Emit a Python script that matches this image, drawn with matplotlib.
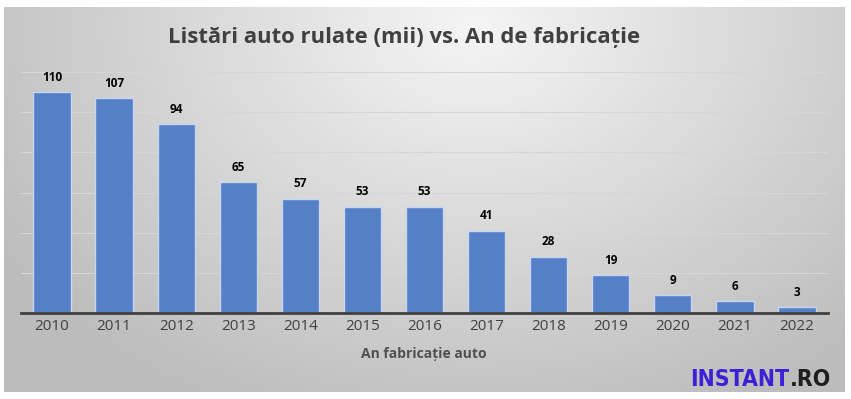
import numpy as np
import matplotlib
matplotlib.use('Agg')
import matplotlib.pyplot as plt
from matplotlib import font_manager

# date
ani = ['2010', '2011', '2012', '2013', '2014', '2015', '2016',
       '2017', '2018', '2019', '2020', '2021', '2022']
listari = [110, 107, 94, 65, 57, 53, 53, 41, 28, 19, 9, 6, 3]

titlu = 'Listări auto rulate (mii) vs. An de fabricație'
eticheta_x = 'An fabricație auto'

plt.rcParams['font.family'] = ['Open Sans', 'DejaVu Sans']

# un fisier de font ingust (bold) pentru logo, daca exista
logo_file = None
for f in font_manager.fontManager.ttflist:
    n = f.fname.lower()
    if ('condensed' in n or 'narrow' in n) and 'bold' in n and 'oblique' not in n and 'italic' not in n:
        logo_file = f.fname
        break

fig = plt.figure(figsize=(8.51, 3.99), dpi=100)
fig.patch.set_facecolor('white')

# fundal cu gradient
bg = fig.add_axes([4/851, 7/399, 841/851, 385/399])
h, w = 385, 841
yy, xx = np.mgrid[0:h, 0:w]
d = np.sqrt(((xx - 470) / 560.0) ** 2 + ((yy - 20) / 420.0) ** 2)
d = np.clip(d, 0, 1)
val = 0.96 - 0.22 * d
img = np.dstack([val, val, val])
bg.imshow(img, aspect='auto', extent=[0, 1, 0, 1], origin='upper')
bg.set_axis_off()

ax = fig.add_axes([21/851, (399-313)/399, 807/851, (313-72)/399])
ax.patch.set_alpha(0)
x = np.arange(len(ani))
bare = ax.bar(x, listari, width=0.6, color='#5580c8', edgecolor='#c5d6ee',
              linewidth=1.0, zorder=3)
ax.set_xlim(-0.5, len(ani) - 0.5)
ax.set_ylim(0, 120)
ax.set_yticks(range(0, 121, 20))
ax.yaxis.grid(True, color='#d6d6d6', linewidth=0.8, zorder=0)
ax.tick_params(axis='y', left=False, labelleft=False)
ax.tick_params(axis='x', length=0, pad=4, labelsize=11, labelcolor='#404040')
ax.set_xticks(x)
ax.set_xticklabels(ani)
for s in ['top', 'right', 'left']:
    ax.spines[s].set_visible(False)
ax.spines['bottom'].set_color('#404040')
ax.spines['bottom'].set_linewidth(2)
ax.spines['bottom'].set_zorder(4)

for xi, v in zip(x, listari):
    ax.annotate(str(v), (xi, v), xytext=(0, 6), textcoords='offset points',
                ha='center', va='bottom', fontsize=8.5, fontweight='bold',
                color='black')

fig.text(404/851, 1 - 37/399, titlu, ha='center', va='center',
         fontsize=15.8, fontweight='bold', color='#404040')
fig.text(424/851, 1 - 354/399, eticheta_x, ha='center', va='center',
         fontsize=10, fontweight='bold', color='#505050')

# logo, aliniat la dreapta
if logo_file is not None:
    fp = font_manager.FontProperties(fname=logo_file, size=16.5)
else:
    fp = font_manager.FontProperties(family='Roboto', weight='bold', size=14)
t2 = fig.text(831/851, 1 - 386/399, '.RO', ha='right', va='baseline',
              color='#1e1e1e', fontproperties=fp)
fig.canvas.draw()
bb = t2.get_window_extent()
fig.text(bb.x0 / 851, 1 - 386/399, 'INSTANT', ha='right', va='baseline',
         color='#3d1fd6', fontproperties=fp)

fig.savefig('out.png', dpi=100)
